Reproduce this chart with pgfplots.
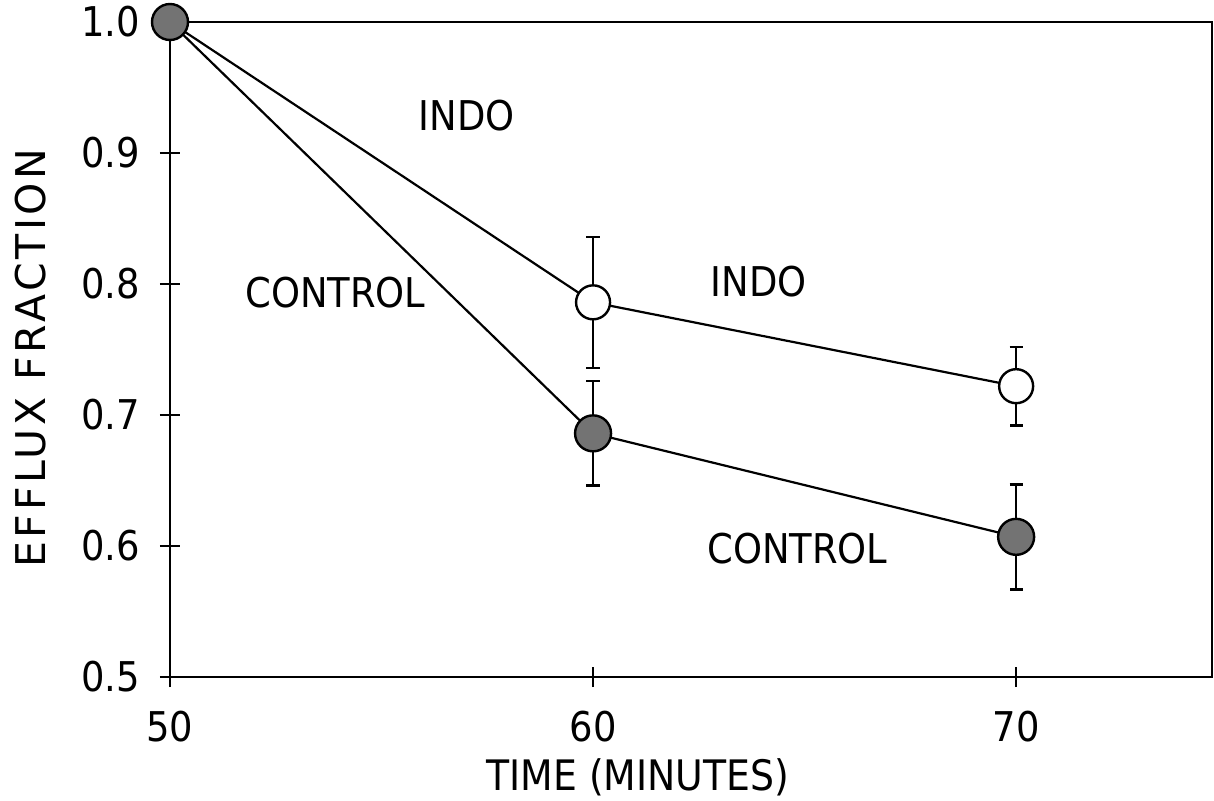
\documentclass[border=0pt]{standalone}
\usepackage{pgfplots}
\pgfplotsset{compat=1.18}
\usepackage{fontspec}
\setmainfont{DejaVu Sans Condensed}
\newfontfamily\widefont{DejaVu Sans}[LetterSpace=9]
\begin{document}
\fontsize{20.5}{24}\selectfont
\begin{tikzpicture}
\begin{axis}[
  at={(0,0)}, anchor=south west,
  scale only axis, width=521pt, height=327.5pt,
  xmin=50, xmax=74.63, ymin=0.5, ymax=1.0,
  xtick={50,60,70}, ytick={0.5,0.6,0.7,0.8,0.9,1.0},
  xtick pos=bottom, ytick pos=left,
  /pgf/number format/assume math mode=true,
  yticklabel style={xshift=-3pt, /pgf/number format/fixed,/pgf/number format/fixed zerofill,/pgf/number format/precision=1},
  xticklabel style={yshift=-5pt},
  tick align=center, major tick length=10pt,
  tick style={line width=1pt, black},
  axis line style={line width=1.3pt},
  xlabel={TIME (MINUTES)},
  xlabel style={at={(axis description cs:0.449,-0.153)}, anchor=center, font=\fontsize{21}{24}\selectfont},
  ylabel={\widefont EFFLUX FRACTION},
  ylabel style={at={(axis description cs:-0.134,0.487)}, anchor=center, rotate=0},
  clip=false,
]
% lines
\addplot[black, line width=1.1pt, mark=none] coordinates {(50,1.0) (60,0.786) (70,0.722)};
\addplot[black, line width=1.1pt, mark=none] coordinates {(50,1.0) (60,0.686) (70,0.607)};
% error bars
\addplot[draw=none, mark=none, error bars/.cd, y dir=both, y explicit,
  error bar style={line width=1pt, black},
  error mark options={rotate=90, mark size=3.3pt, line width=1.3pt, black}]
  coordinates {(60,0.786) +- (0,0.05) (70,0.722) +- (0,0.03)};
\addplot[draw=none, mark=none, error bars/.cd, y dir=both, y explicit,
  error bar style={line width=1pt, black},
  error mark options={rotate=90, mark size=3.3pt, line width=1.3pt, black}]
  coordinates {(60,0.686) +- (0,0.04) (70,0.607) +- (0,0.04)};
% markers
\addplot[only marks, mark=*, mark size=8.5pt, mark options={fill=white, draw=black, line width=1.2pt}]
  coordinates {(60,0.786) (70,0.722)};
\addplot[only marks, mark=*, mark size=9pt, mark options={fill=black!55, draw=black, line width=1.2pt}]
  coordinates {(50,1.0) (60,0.686) (70,0.607)};
% labels
\node at (axis cs:57.01,0.9286) {INDO};
\node at (axis cs:53.91,0.7936) {CONTROL};
\node at (axis cs:63.92,0.802) {INDO};
\node at (axis cs:64.83,0.598) {CONTROL};
\end{axis}
\pgfresetboundingbox
\path[use as bounding box] (-85pt,-61.5pt) rectangle (522pt,338.5pt);
\end{tikzpicture}
\end{document}
